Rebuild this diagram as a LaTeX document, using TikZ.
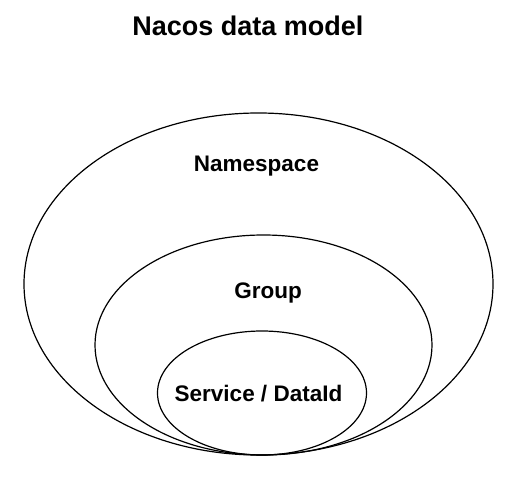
\documentclass[tikz,border=0pt]{standalone}
\usepackage{fontspec}
\setmainfont{Liberation Sans}
\usepackage{tikz}
\usetikzlibrary{
	positioning,    % posizionamento relativo dei nodi
	calc
}

\begin{document}
\begin{tikzpicture}[
			x=1pt, y=-1pt,
			bordo/.style={draw, black, line width=1.2pt},
			% Stile per le etichette dei livelli
			etichetta/.style={anchor=base, inner sep=0pt, font=\bfseries\fontsize{22.5}{27}\selectfont},
			titolo/.style={anchor=base, inner sep=0pt, font=\bfseries\fontsize{27}{32}\selectfont}
			]
			
			% --- Area del disegno ---
			\useasboundingbox (0,0) rectangle (520,481);
			
			% --- Titolo ---
			\node[titolo] (titolo) at (248,36) {Nacos data model};
			
			% --- Ellissi annidate (tangenti in basso) ---
			\coordinate (C_ns) at (258.5,284);
			\coordinate (C_gr) at (263.5,345);
			\coordinate (C_sv) at (262,393);
			
			\draw[bordo] (C_ns) ellipse [x radius=234.5pt, y radius=171pt];
			\draw[bordo] (C_gr) ellipse [x radius=168.5pt, y radius=110pt];
			\draw[bordo] (C_sv) ellipse [x radius=104.5pt, y radius=62pt];
			
			% --- Etichette ---
			\node[etichetta] (namespace) at (256.5,172) {Namespace};
			\node[etichetta] (group) at (268,299) {Group};
			\node[etichetta] (service) at (258.5,402) {Service / DataId};
			
		\end{tikzpicture}
\end{document}
